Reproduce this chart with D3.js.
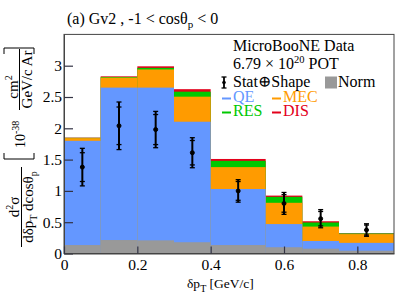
<!DOCTYPE html>
<html>
<head>
<meta charset="utf-8">
<script src="https://cdn.jsdelivr.net/npm/d3@7"></script>
<style>
body { margin: 0; background: #fff; }
text { font-family: "Liberation Serif", "DejaVu Serif", serif; }
</style>
</head>
<body>
<div id="chart"></div>
<script>
// bin edges in dpT [GeV/c]
var binEdges = [0, 0.1, 0.2, 0.3, 0.4, 0.55, 0.65, 0.75, 0.9];
// GENIE v2 prediction split by interaction mode
var qe  = [1.80, 2.65, 2.65, 2.105, 1.03, 0.47, 0.20, 0.17];
var mec = [0.043, 0.16, 0.29, 0.40, 0.35, 0.34, 0.23, 0.14];
var res = [0.005, 0.01, 0.025, 0.08, 0.10, 0.095, 0.065, 0.01];
var dis = [0.003, 0.01, 0.025, 0.04, 0.03, 0.02, 0.02, 0.002];
var norm = [0.135, 0.215, 0.21, 0.18, 0.135, 0.10, 0.077, 0.045];
// data
var dataVal = [1.38, 2.04, 1.98, 1.61, 1.00, 0.80, 0.556, 0.375];
var errTot  = [0.30, 0.38, 0.29, 0.24, 0.18, 0.175, 0.145, 0.10];
var errStat = [0.23, 0.30, 0.24, 0.195, 0.15, 0.14, 0.115, 0.08];
var xTicks = [0, 0.2, 0.4, 0.6, 0.8];
var yTicks = [0, 0.5, 1, 1.5, 2, 2.5, 3];

var w = 407, h = 295;
var padL = 64, padR = 394, padT = 34.4, padB = 253.5;

var x = d3.scaleLinear().domain([0, 0.9]).range([padL, padR]);
var y = d3.scaleLinear().domain([0, 3.5]).range([padB, padT]);

var svg = d3.select("#chart").append("svg")
  .attr("width", w).attr("height", h)
  .style("background", "#fff");

// stacked components, each drawn as cumulative bar from zero
var layers = [
  {vals: dis, color: "#e3001b"},
  {vals: res, color: "#00c800"},
  {vals: mec, color: "#ff9b00"},
  {vals: qe, color: "#6497ff"}
];
var cum = qe.map(function(d, i) { return qe[i] + mec[i] + res[i] + dis[i]; });
var bars = svg.append("g");
layers.forEach(function(l) {
  var c = cum.slice();
  bars.selectAll(null).data(c).enter().append("rect")
    .attr("x", function(d, i) { return x(binEdges[i]); })
    .attr("width", function(d, i) { return x(binEdges[i + 1]) - x(binEdges[i]); })
    .attr("y", function(d) { return y(d); })
    .attr("height", function(d) { return padB - y(d); })
    .attr("fill", l.color);
  cum = cum.map(function(d, i) { return d - l.vals[i]; });
});

// normalisation uncertainty band
bars.selectAll(null).data(norm).enter().append("rect")
  .attr("x", function(d, i) { return x(binEdges[i]); })
  .attr("width", function(d, i) { return x(binEdges[i + 1]) - x(binEdges[i]); })
  .attr("y", function(d) { return y(d); })
  .attr("height", function(d) { return padB - y(d); })
  .attr("fill", "#999");

// frame
svg.append("rect")
  .attr("x", padL).attr("y", padT)
  .attr("width", padR - padL).attr("height", padB - padT)
  .attr("fill", "none").attr("stroke", "#444").attr("stroke-width", 1);

// axes
var yAxis = d3.axisLeft(y).tickValues(yTicks).tickFormat(d3.format(""))
  .tickSizeInner(-9).tickSizeOuter(0).tickPadding(2);
var xAxis = d3.axisBottom(x).tickValues(xTicks).tickFormat(d3.format(""))
  .tickSizeInner(-7).tickSizeOuter(0).tickPadding(5);

svg.append("g").attr("class", "axis")
  .attr("transform", "translate(" + padL + ",0)").call(yAxis);
svg.append("g").attr("class", "axis")
  .attr("transform", "translate(0," + padB + ")").call(xAxis);

d3.selectAll(".axis").selectAll("text")
  .attr("fill", "#000").style("font-size", "15.5px")
  .style("font-family", "'Liberation Serif', serif");
d3.selectAll(".axis").selectAll("line").attr("stroke", "#334").attr("stroke-width", 1.2);
d3.selectAll(".axis").selectAll(".domain").attr("stroke", "#444");

// data points with error bars
var cx = function(i) { return x((binEdges[i] + binEdges[i + 1]) / 2); };
var pts = svg.append("g").attr("stroke", "#000");
dataVal.forEach(function(v, i) {
  pts.append("line")
    .attr("x1", cx(i)).attr("x2", cx(i))
    .attr("y1", y(v + errTot[i])).attr("y2", y(v - errTot[i]))
    .attr("stroke-width", 2);
  [v + errTot[i], v - errTot[i], v + errStat[i], v - errStat[i]].forEach(function(e) {
    pts.append("line")
      .attr("x1", cx(i) - 2.5).attr("x2", cx(i) + 2.5)
      .attr("y1", y(e)).attr("y2", y(e))
      .attr("stroke-width", 1.3);
  });
  pts.append("circle").attr("cx", cx(i)).attr("cy", y(v)).attr("r", 2).attr("fill", "#000");
});

// title
var title = svg.append("text").attr("x", 67).attr("y", 24).style("font-size", "16px");
title.append("tspan").text("(a) Gv2 , -1 < cos\u03b8");
title.append("tspan").attr("dy", 4).style("font-size", "11px").text("p");
title.append("tspan").attr("dy", -4).text(" < 0");

// legend
var lg = svg.append("g").style("font-size", "16px");
lg.append("text").attr("x", 233).attr("y", 51).text("MicroBooNE Data");
var pot = lg.append("text").attr("x", 233).attr("y", 68.5);
pot.append("tspan").text("6.79 \u00d7 10");
pot.append("tspan").attr("dy", -6).style("font-size", "10.5px").text("20");
pot.append("tspan").attr("dy", 6).text(" POT");

lg.append("line").attr("x1", 224).attr("x2", 224).attr("y1", 77).attr("y2", 88)
  .attr("stroke", "#000").attr("stroke-width", 1.8);
[77, 88].forEach(function(yy) {
  lg.append("line").attr("x1", 221.5).attr("x2", 226.5).attr("y1", yy).attr("y2", yy)
    .attr("stroke", "#000").attr("stroke-width", 1.3);
});
lg.append("circle").attr("cx", 224).attr("cy", 82.5).attr("r", 1.8).attr("fill", "#000");
lg.append("text").attr("x", 233).attr("y", 87).text("Stat\u2295Shape");
lg.append("rect").attr("x", 325).attr("y", 76.5).attr("width", 12).attr("height", 12).attr("fill", "#999");
lg.append("text").attr("x", 338).attr("y", 87).text("Norm");

var entries = [
  {name: "QE", color: "#6497ff", x: 222, y: 102},
  {name: "MEC", color: "#ff9b00", x: 272, y: 102},
  {name: "RES", color: "#00c800", x: 222, y: 116},
  {name: "DIS", color: "#e3001b", x: 272, y: 116}
];
entries.forEach(function(e) {
  lg.append("line").attr("x1", e.x).attr("x2", e.x + 9)
    .attr("y1", e.y - 3.5).attr("y2", e.y - 3.5)
    .attr("stroke", e.color).attr("stroke-width", 2);
  lg.append("text").attr("x", e.x + 11).attr("y", e.y).attr("fill", e.color).text(e.name);
});

// x axis title
var xt = svg.append("text").attr("x", 187).attr("y", 288).style("font-size", "13.5px");
xt.append("tspan").text("\u03b4p");
xt.append("tspan").attr("dy", 4).style("font-size", "10px").text("T");
xt.append("tspan").attr("dy", -4).text(" [GeV/c]");

// y axis title (rotated)
var yt = svg.append("g").attr("transform", "translate(21.5,247) rotate(-90)")
  .style("font-size", "15px");
yt.append("line").attr("x1", 0).attr("x2", 80).attr("y1", 0).attr("y2", 0)
  .attr("stroke", "#000").attr("stroke-width", 1);
var num1 = yt.append("text").attr("x", 40).attr("y", -2.5).attr("text-anchor", "middle");
num1.append("tspan").text("d");
num1.append("tspan").attr("dy", -6).style("font-size", "10px").text("2");
num1.append("tspan").attr("dy", 6).text("\u03c3");
var den1 = yt.append("text").attr("x", 40).attr("y", 11.5).attr("text-anchor", "middle");
den1.append("tspan").text("d\u03b4p");
den1.append("tspan").attr("dy", 4).style("font-size", "10px").text("T");
den1.append("tspan").attr("dy", -4).text(" dcos\u03b8");
den1.append("tspan").attr("dy", 4).style("font-size", "10px").text("p");

yt.append("path").attr("d", "M94,-17.5L88,-17.5L88,12.5L94,12.5")
  .attr("fill", "none").attr("stroke", "#000").attr("stroke-width", 1);
var pw = yt.append("text").attr("x", 99).attr("y", 3.5).style("font-size", "14px");
pw.append("tspan").text("10");
pw.append("tspan").attr("dy", -6).style("font-size", "10px").text("-38");

yt.append("line").attr("x1", 137).attr("x2", 198).attr("y1", -2).attr("y2", -2)
  .attr("stroke", "#000").attr("stroke-width", 1);
var num2 = yt.append("text").attr("x", 160).attr("y", -4).attr("text-anchor", "middle");
num2.append("tspan").text("cm");
num2.append("tspan").attr("dy", -6).style("font-size", "10px").text("2");
yt.append("text").attr("x", 167.5).attr("y", 10).attr("text-anchor", "middle").text("GeV/c Ar");
yt.append("path").attr("d", "M193,-17.5L199,-17.5L199,12.5L193,12.5")
  .attr("fill", "none").attr("stroke", "#000").attr("stroke-width", 1);
</script>
</body>
</html>
